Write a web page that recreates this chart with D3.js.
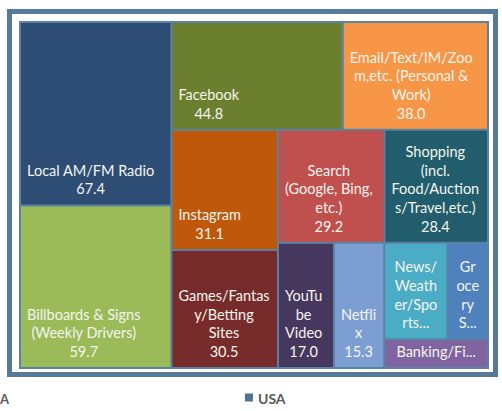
<!DOCTYPE html>
<html><head><meta charset="utf-8">
<script src="https://cdn.jsdelivr.net/npm/d3@7"></script>
<style>html,body{margin:0;padding:0;background:#fff;} svg{display:block;font-family:Lato,"Open Sans",sans-serif;}</style>
</head><body><svg id="c" width="502" height="411"></svg>
<script>
const seriesName = "USA";
const categories = ["Local AM/FM Radio","Billboards & Signs (Weekly Drivers)","Facebook","Email/Text/IM/Zoom,etc. (Personal & Work)","Instagram","Games/Fantasy/Betting Sites","Search (Google, Bing, etc.)","Shopping (incl. Food/Auctions/Travel,etc.)","YouTube Video","Netflix","News/Weather/Sports","Grocery Stores","Banking/Finance"];
const values = [67.4,59.7,44.8,38.0,31.1,30.5,29.2,28.4,17.0,15.3,14.8,9.5,7.2];
const labelLines = [["Local AM/FM Radio"],["Billboards & Signs","(Weekly Drivers)"],["Facebook"],["Email/Text/IM/Zoo","m,etc. (Personal &","Work)"],["Instagram"],["Games/Fantas","y/Betting","Sites"],["Search","(Google, Bing,","etc.)"],["Shopping","(incl.","Food/Auction","s/Travel,etc.)"],["YouTu","be","Video"],["Netfli","x"],["News/","Weath","er/Spo","rts..."],["Gr","oce","ry","S..."],["Banking/Fi..."]];
const colors = ["#2D4D75","#9BBB59","#6B7F2F","#F79646","#C0580C","#772B2B","#C0504D","#215D6C","#45375E","#7C9ED2","#4BACC6","#4F81BD","#8064A2"];
const rowSizes = [2,2,2,2,1,1,2,1];

const svg = d3.select("#c");
const frameColor = "#557B98", gapColor = "#5A82A3";
const LH = 18.7, PADX = 6, BOTTOM = 10;

svg.append("rect").attr("x",9.5).attr("y",11.5).attr("width",486).attr("height",363)
  .attr("fill","none").attr("stroke",frameColor).attr("stroke-width",5);
svg.append("rect").attr("x",19).attr("y",21).attr("width",470).attr("height",348).attr("fill",gapColor);

function groupedTile(parent, x0, y0, x1, y1) {
  const nodes = parent.children;
  let value = parent.value, i0 = 0;
  for (const size of rowSizes) {
    if (i0 >= nodes.length) break;
    const kids = nodes.slice(i0, i0 + size);
    const sum = d3.sum(kids, d => d.value);
    const row = {value: sum, children: kids};
    const dx = x1 - x0, dy = y1 - y0;
    if (dx < dy) { const ny = value ? y0 + dy * sum / value : y1; d3.treemapDice(row, x0, y0, x1, ny); y0 = ny; }
    else { const nx = value ? x0 + dx * sum / value : x1; d3.treemapSlice(row, x0, y0, nx, y1); x0 = nx; }
    value -= sum; i0 += size;
  }
}

const root = d3.hierarchy({children: categories.map((c,i)=>({name:c, value:values[i], i}))})
  .sum(d => d.value || 0);
d3.treemap().size([470,348]).paddingOuter(2).paddingInner(2).tile(groupedTile)(root);

const g = svg.append("g").attr("transform","translate(19,21)");
const fmt = d3.format(".1f");
const leaves = g.selectAll("g.leaf").data(root.leaves()).join("g").attr("class","leaf");
leaves.append("rect").attr("x",d=>d.x0).attr("y",d=>d.y0)
  .attr("width",d=>d.x1-d.x0).attr("height",d=>d.y1-d.y0)
  .attr("fill",d=>colors[d.data.i]);

leaves.each(function(d){
  const sel = d3.select(this);
  const i = d.data.i;
  const w = d.x1 - d.x0, h = d.y1 - d.y0;
  const lines = labelLines[i].slice();
  const maxLines = Math.floor((h - 6) / LH);
  const truncated = lines[lines.length-1].endsWith("...");
  if (!truncated && lines.length + 1 <= maxLines) lines.push(fmt(values[i]));
  const t = sel.append("text").attr("fill","#F5F5EE").attr("font-size",14.5).attr("text-anchor","middle");
  const yLast = d.y1 - BOTTOM;
  const ts = t.selectAll("tspan").data(lines).join("tspan").text(s=>s)
    .attr("y",(s,k)=>yLast - (lines.length-1-k)*LH);
  let blockW = 0;
  ts.each(function(){ blockW = Math.max(blockW, this.getComputedTextLength()); });
  let cx = d.x0 + PADX + blockW/2;
  if (truncated || blockW > w - 2*PADX) cx = (d.x0 + d.x1)/2;
  ts.attr("x", cx);
});

svg.append("rect").attr("x",245).attr("y",393.5).attr("width",8).attr("height",8).attr("fill","#4A7596");
svg.append("text").attr("x",258).attr("y",403.5).attr("font-size",14).attr("font-weight","bold")
  .attr("fill","#595959").text(seriesName);
svg.append("text").attr("x",0).attr("y",403.5).attr("font-size",13).attr("font-weight","bold")
  .attr("fill","#595959").text(seriesName.slice(-1));
</script></body></html>
